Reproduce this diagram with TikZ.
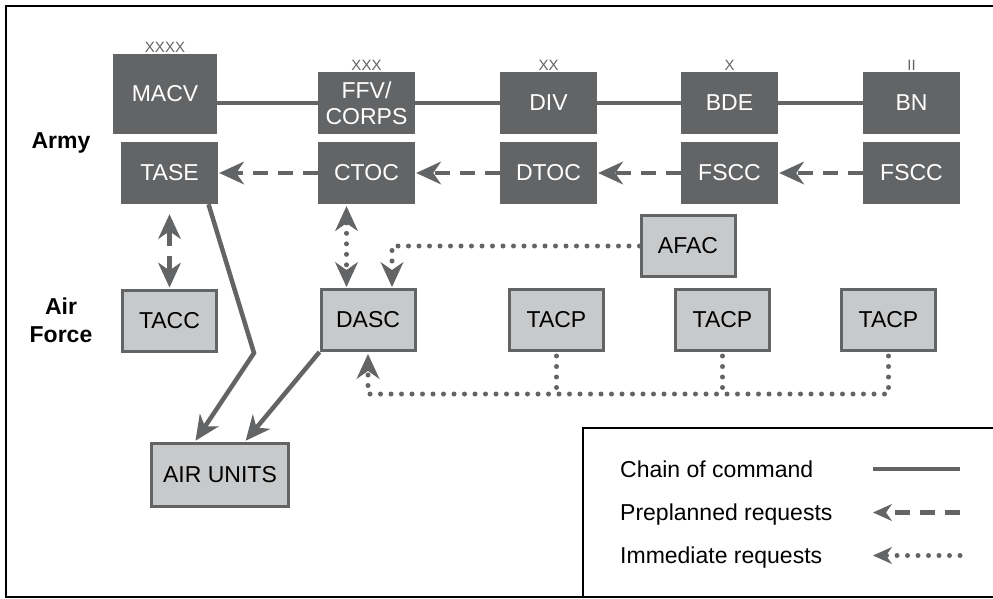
\documentclass[tikz,border=0pt]{standalone}
\usepackage{fontspec}
\setmainfont{Liberation Sans}
\usetikzlibrary{arrows.meta}
\definecolor{unitgray}{RGB}{99,100,102}
\definecolor{afgray}{RGB}{200,201,203}

\begin{document}
\begin{tikzpicture}[
            x=1pt,y=-1pt,
            font=\fontsize{23}{26}\selectfont,
            >={Stealth[length=25pt,width=23pt,inset=8pt,line width=1pt]},
            army/.style={fill=unitgray,text=white,minimum width=97pt,minimum height=62pt,inner sep=0pt,align=center},
            airforce/.style={fill=afgray,draw=unitgray,line width=3pt,minimum width=94pt,minimum height=61pt,inner sep=0pt},
            echelon/.style={label={[font=\fontsize{15}{15}\selectfont,text=unitgray,inner sep=0pt,label distance=1pt]above:#1}},
            cmd/.style={draw=unitgray,line width=4.5pt},
            prep/.style={cmd,dash pattern=on 15pt off 10pt},
            immed/.style={draw=unitgray,line width=5pt,line cap=round,dash pattern=on 0pt off 10.5pt},
            keytext/.style={anchor=west,inner sep=0pt,text height=16.5pt,text depth=0pt},
            keytip/.style={>={Stealth[length=19pt,width=17pt,inset=6pt,line width=1pt]}}
        ]
        \useasboundingbox (0,0) rectangle (993,599);
        \draw[line width=2pt] (994,6) -| (6,597) -- (994,597);

        \node[army,minimum width=104pt,minimum height=80pt,echelon=XXXX] (macv) at (165,94) {MACV};
        \node[army,echelon=XXX] (ffv) at (366.5,103) {FFV/\\CORPS};
        \node[army,echelon=XX] (div) at (548.5,103) {DIV};
        \node[army,echelon=X] (bde) at (729.5,103) {BDE};
        \node[army,echelon=II] (bn) at (911.5,103) {BN};
        \node[army] (tase) at (169.5,173) {TASE};
        \node[army] (ctoc) at (366.5,173) {CTOC};
        \node[army] (dtoc) at (548.5,173) {DTOC};
        \node[army] (bdefscc) at (729.5,173) {FSCC};
        \node[army] (bnfscc) at (911.5,173) {FSCC};

        \node[airforce] (afac) at (688,246) {AFAC};
        \node[airforce] (tacc) at (169.5,320.5) {TACC};
        \node[airforce] (dasc) at (368,320) {DASC};
        \foreach \x [count=\i] in {556.5,722.5,888.5}
            \node[airforce] (tacp\i) at (\x,320) {TACP};
        \node[airforce,minimum width=137pt,minimum height=63pt] (airunits) at (220,474.5) {AIR UNITS};

        \node[font=\fontsize{23}{26}\selectfont\bfseries] (army) at (61,143) {Army};
        \node[font=\fontsize{23}{28}\selectfont\bfseries,align=center] (airforce) at (61,320) {Air\\Force};

        \draw[cmd] (macv.east |- ffv.west) -- (ffv.west);
        \foreach \a/\b in {ffv/div,div/bde,bde/bn}
            \draw[cmd] (\a) -- (\b);
        \foreach \a/\b in {ctoc/tase,dtoc/ctoc,bdefscc/dtoc,bnfscc/bdefscc}
            \draw[prep,->,shorten >=1pt] (\a) -- (\b);
        \draw[prep,<->,shorten <=10pt,shorten >=1pt] (tase) -- (tacc);

        \draw[immed,<->,shorten <=2pt,shorten >=1pt] ([xshift=-20pt]ctoc.south) -- ([xshift=-20pt]ctoc.south |- dasc.north);
        \draw[immed,->,shorten >=1pt] (afac.west) -| ([xshift=24pt]dasc.north);
        \coordinate (bus) at (368,394);
        \draw[immed,->,shorten <=4pt,shorten >=2pt] (tacp3.south) |- (bus) -- (dasc.south);
        \foreach \i in {1,2}
            \draw[immed,shorten <=4pt] (tacp\i.south) -- (tacp\i.south |- bus);

        \coordinate (bend) at (254,353);
        \draw[cmd,->,shorten >=1pt] ([xshift=39pt]tase.south) -- (bend) -- ([xshift=-25pt]airunits.north);
        \draw[cmd,->,shorten >=1pt] (dasc.south west) -- ([xshift=25pt]airunits.north);

        \draw[line width=2pt] (583,597) -- (583,428) -- (994,428);
        \coordinate (keyl) at (873,0);
        \coordinate (keyr) at (960,0);
        \node[keytext] (chain) at (620,469) {Chain of command};
        \node[keytext] (preplanned) at (620,512.5) {Preplanned requests};
        \node[keytext] (immediate) at (620,555.5) {Immediate requests};
        \draw[cmd] (chain -| keyl) -- (chain -| keyr);
        \draw[prep,keytip,->] (preplanned -| keyr) -- (preplanned -| keyl);
        \draw[immed,keytip,->] (immediate -| keyr) -- (immediate -| keyl);
    \end{tikzpicture}
\end{document}
